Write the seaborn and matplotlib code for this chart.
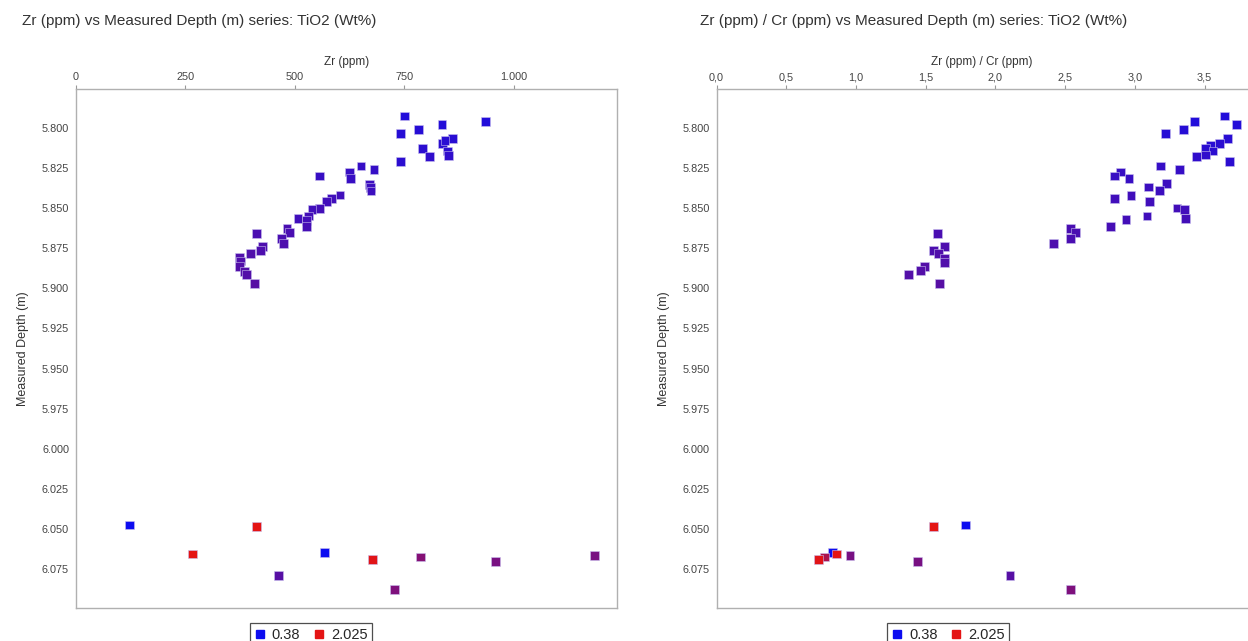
import matplotlib
matplotlib.use("Agg")
import numpy as np
import pandas as pd
import seaborn as sns
import matplotlib.pyplot as plt
from matplotlib.colors import LinearSegmentedColormap
from matplotlib.ticker import FuncFormatter, MultipleLocator
from matplotlib.lines import Line2D

# ---------------- data ----------------
# Left panel: Zr (ppm) vs depth
zr_ppm = [750, 935, 836, 782, 742, 860, 838, 843, 791, 849, 807, 851, 742, 651, 681,
          625, 556, 628, 670, 672, 674, 603, 583, 573, 556, 539, 532, 507, 527, 526,
          413, 482, 487, 469, 474, 426, 422, 398, 373, 376, 373, 385, 390, 407,
          122, 413, 568, 267, 1185, 787, 678, 958, 462, 728]
depth_left = [5.7923, 5.7956, 5.7975, 5.8006, 5.8033, 5.8064, 5.8094, 5.8075, 5.8127,
              5.8142, 5.8177, 5.8169, 5.8206, 5.8236, 5.8256, 5.8273, 5.8298, 5.8314,
              5.8350, 5.8371, 5.8392, 5.8417, 5.8438, 5.8456, 5.8500, 5.8506, 5.8548,
              5.8564, 5.8577, 5.8611, 5.8658, 5.8627, 5.8652, 5.8689, 5.8721, 5.8736,
              5.8761, 5.8781, 5.8806, 5.8829, 5.8861, 5.8892, 5.8913, 5.8969,
              6.0477, 6.0488, 6.0648, 6.0658, 6.0669, 6.0677, 6.0690, 6.0706, 6.0790, 6.0879]
tio2_left = [0.55, 0.55, 0.56, 0.58, 0.58, 0.6, 0.62, 0.6, 0.62, 0.62, 0.65, 0.65, 0.62,
             0.7, 0.7, 0.72, 0.72, 0.72, 0.75, 0.75, 0.75, 0.78, 0.78, 0.78, 0.8, 0.78,
             0.8, 0.78, 0.8, 0.82, 0.85, 0.85, 0.85, 0.85, 0.88, 0.88, 0.88, 0.9, 0.9,
             0.9, 0.92, 0.92, 0.92, 0.95,
             0.38, 2.025, 0.38, 2.025, 1.2, 1.3, 2.0, 1.2, 0.95, 1.25]

# Right panel: Zr/Cr vs depth
zr_cr = [3.643, 3.428, 3.726, 3.349, 3.220, 3.662, 3.607, 3.540, 3.506, 3.559, 3.440,
         3.506, 3.678, 3.186, 3.320, 2.898, 2.855, 2.957, 3.227, 3.177, 3.100, 2.855,
         2.971, 3.105, 3.301, 3.356, 3.361, 3.086, 2.936, 2.826, 2.539, 2.575, 2.537,
         2.418, 1.582, 1.637, 1.553, 1.589, 1.637, 1.637, 1.489, 1.463, 1.374, 1.601,
         1.788, 1.558, 0.834, 0.863, 0.957, 0.776, 0.730, 1.443, 2.105, 2.536]
depth_right = [5.7923, 5.7956, 5.7975, 5.8006, 5.8033, 5.8064, 5.8094, 5.8106, 5.8127,
               5.8142, 5.8177, 5.8167, 5.8206, 5.8236, 5.8256, 5.8273, 5.8298, 5.8314,
               5.8346, 5.8388, 5.8367, 5.8438, 5.8419, 5.8456, 5.8498, 5.8506, 5.8563,
               5.8548, 5.8569, 5.8611, 5.8627, 5.8652, 5.8689, 5.8721, 5.8658, 5.8739,
               5.8761, 5.8781, 5.8815, 5.8836, 5.8861, 5.8888, 5.8913, 5.8971,
               6.0477, 6.0488, 6.0648, 6.0658, 6.0669, 6.0677, 6.0690, 6.0706, 6.0790, 6.0879]
tio2_right = [0.55, 0.55, 0.56, 0.58, 0.58, 0.6, 0.62, 0.6, 0.62, 0.62, 0.65, 0.65, 0.62,
              0.7, 0.7, 0.72, 0.72, 0.72, 0.75, 0.75, 0.75, 0.78, 0.78, 0.78, 0.8, 0.78,
              0.8, 0.78, 0.8, 0.82, 0.85, 0.85, 0.85, 0.88, 0.85, 0.88, 0.88, 0.9, 0.9,
              0.9, 0.92, 0.92, 0.92, 0.95,
              0.38, 2.025, 0.38, 2.025, 1.2, 1.6, 2.0, 1.2, 0.95, 1.25]

legend_values = [0.38, 2.025]
left_title = "Zr (ppm) vs Measured Depth (m) series: TiO2 (Wt%)"
right_title = "Zr (ppm) / Cr (ppm) vs Measured Depth (m) series: TiO2 (Wt%)"
left_xlabel = "Zr (ppm)"
right_xlabel = "Zr (ppm) / Cr (ppm)"
ylabel = "Measured Depth (m)"

df_left = pd.DataFrame({"x": zr_ppm, "depth": depth_left, "tio2": tio2_left})
df_right = pd.DataFrame({"x": zr_cr, "depth": depth_right, "tio2": tio2_right})

# ---------------- style ----------------
sns.set_theme(style="white")
plt.rcParams["font.family"] = ["Liberation Sans", "DejaVu Sans"]

cmap = LinearSegmentedColormap.from_list("tio2", ["#0c0cf0", "#e41414"])
W, H = 1248, 641
fig = plt.figure(figsize=(W / 100, H / 100), dpi=100)

def px_rect(x0, x1, y0, y1):
    return [x0 / W, 1 - y1 / H, (x1 - x0) / W, (y1 - y0) / H]

ax1 = fig.add_axes(px_rect(76, 617, 89, 608))
ax2 = fig.add_axes(px_rect(716.5, 1247.5, 89, 608))

fmt_left = FuncFormatter(lambda v, p: f"{int(round(v)):,}".replace(",", "."))
fmt_right = FuncFormatter(lambda v, p: f"{v:.1f}".replace(".", ","))
fmt_y = FuncFormatter(lambda v, p: f"{v:.3f}")

for ax, df, xmax, fmt, step, xlabel in [
    (ax1, df_left, 1236, fmt_left, 250, left_xlabel),
    (ax2, df_right, 3.807, fmt_right, 0.5, right_xlabel),
]:
    sns.scatterplot(data=df, x="x", y="depth", hue="tio2", palette=cmap,
                    hue_norm=(legend_values[0], legend_values[1]),
                    marker="s", s=40, linewidth=0.4, edgecolor="#c8c0ee",
                    legend=False, ax=ax, zorder=3)
    ax.set_xlim(0, xmax)
    ax.set_ylim(6.0995, 5.7755)
    ax.xaxis.set_major_locator(MultipleLocator(step))
    ax.xaxis.set_major_formatter(fmt)
    ax.yaxis.set_major_locator(MultipleLocator(0.025))
    ax.yaxis.set_major_formatter(fmt_y)
    ax.xaxis.tick_top()
    ax.xaxis.set_label_position("top")
    ax.set_xlabel(xlabel, fontsize=8.5, color="#333333", labelpad=5)
    ax.set_ylabel(ylabel, fontsize=9, color="#333333", labelpad=9)
    ax.tick_params(axis="both", which="major", direction="out", length=3, width=0.8,
                   color="#999999", labelsize=7.8, labelcolor="#444444", pad=2)
    for side in ["top", "bottom", "left", "right"]:
        ax.spines[side].set_color("#b0b0b0")
        ax.spines[side].set_linewidth(1.0)
    ax.set_facecolor("white")
ax2.spines["right"].set_visible(False)

fig.text(22 / W, 1 - 21 / H, left_title, fontsize=11, color="#333333", va="center", ha="left")
fig.text(700 / W, 1 - 21 / H, right_title, fontsize=11, color="#333333", va="center", ha="left")

handles = [Line2D([], [], marker="s", linestyle="", markersize=5.5, color=cmap(0.0)),
           Line2D([], [], marker="s", linestyle="", markersize=5.5, color=cmap(1.0))]
labels = [f"{legend_values[0]}", f"{legend_values[1]}"]
for cx in [311, 948]:
    leg = fig.legend(handles, labels, loc="upper center", bbox_to_anchor=(cx / W, 1 - 616 / H),
                     ncol=2, frameon=True, fontsize=10.5, handlelength=0.8, handletextpad=0.4,
                     columnspacing=0.9, borderpad=0.3, fancybox=False)
    leg.get_frame().set_edgecolor("#222222")
    leg.get_frame().set_linewidth(0.9)

fig.savefig("out.png", dpi=100, facecolor="white")
